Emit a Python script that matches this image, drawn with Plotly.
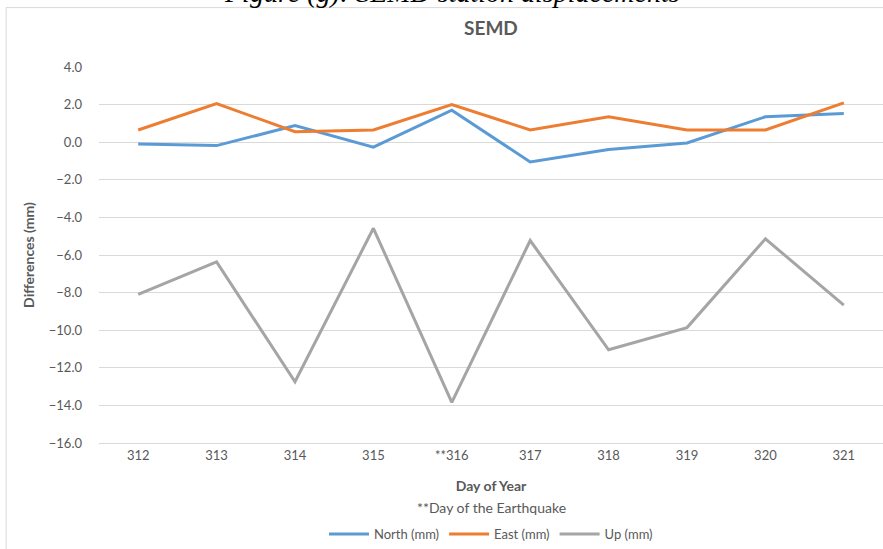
import plotly.graph_objects as go

# Daily coordinate differences at station SEMD
days = ["312", "313", "314", "315", "316", "317", "318", "319", "320", "321"]
day_labels = ["312", "313", "314", "315", "**316", "317", "318", "319", "320", "321"]
north_mm = [-0.09, -0.18, 0.88, -0.26, 1.70, -1.05, -0.39, -0.04, 1.35, 1.53]
east_mm = [0.65, 2.05, 0.56, 0.65, 2.00, 0.65, 1.35, 0.65, 0.65, 2.09]
up_mm = [-8.10, -6.37, -12.74, -4.58, -13.84, -5.23, -11.04, -9.86, -5.14, -8.67]
y_ticks = [4, 2, 0, -2, -4, -6, -8, -10, -12, -14, -16]

FONT = "Lato, 'Open Sans', sans-serif"
GREY = "#595959"

fig = go.Figure()
for name, vals, color in [
    ("North (mm)", north_mm, "#5B9BD5"),
    ("East (mm)", east_mm, "#ED7D31"),
    ("Up (mm)", up_mm, "#A5A5A5"),
]:
    fig.add_trace(go.Scatter(
        x=days, y=vals, name=name, mode="lines",
        line=dict(color=color, width=3),
    ))

fig.update_layout(
    width=883, height=549,
    margin=dict(l=99, r=0, t=67, b=104),
    paper_bgcolor="white", plot_bgcolor="white",
    font=dict(family=FONT, size=13, color=GREY),
    title=dict(text="<b>SEMD</b>", x=0.556, xanchor="center", y=0.949, yanchor="middle",
               font=dict(family=FONT, size=19, color=GREY)),
    showlegend=True,
    legend=dict(orientation="h", x=0.5, xanchor="center", y=-0.243, yanchor="middle",
                font=dict(family=FONT, size=13, color=GREY), itemwidth=40,
                bgcolor="rgba(0,0,0,0)"),
    xaxis=dict(
        type="category", range=[-0.5, 9.5], tickvals=days, ticktext=day_labels,
        showgrid=False, showline=True, linecolor="#d9d9d9", linewidth=1,
        ticks="", tickfont=dict(size=13, color=GREY), zeroline=False,
        title=dict(text="<b>Day of Year</b>", standoff=19,
                   font=dict(family=FONT, size=14, color=GREY)),
    ),
    yaxis=dict(
        range=[-16, 4], tickvals=y_ticks, tickformat=".1f",
        showgrid=True, gridcolor="#d9d9d9", gridwidth=1, zeroline=False,
        showline=False, ticks="", ticklabelstandoff=16,
        tickfont=dict(size=13, color=GREY),
        title=dict(text="<b>Differences (mm)</b>", standoff=10,
                   font=dict(family=FONT, size=14, color=GREY)),
    ),
)

# Footnote below the x-axis title
fig.add_annotation(
    text="**Day of the Earthquake", xref="paper", yref="paper",
    x=0.5, y=-0.172, xanchor="center", yanchor="middle", showarrow=False,
    font=dict(family=FONT, size=14, color=GREY),
)

# Caption above the chart frame, clipped by the page top
fig.add_annotation(
    text="<i>Figure (g): SEMD station displacements</i>", xref="paper", yref="paper",
    x=0.45, y=1.0, yshift=57, xanchor="center", yanchor="bottom", showarrow=False,
    font=dict(family="'Liberation Serif', serif", size=28, color="black"),
)

# Chart frame
fig.add_shape(type="rect", xref="paper", yref="paper",
              x0=-0.1185, x1=1.05, y0=-0.3, y1=1.158,
              line=dict(color="#d9d9d9", width=1), layer="below")

fig.write_html("out.html")
